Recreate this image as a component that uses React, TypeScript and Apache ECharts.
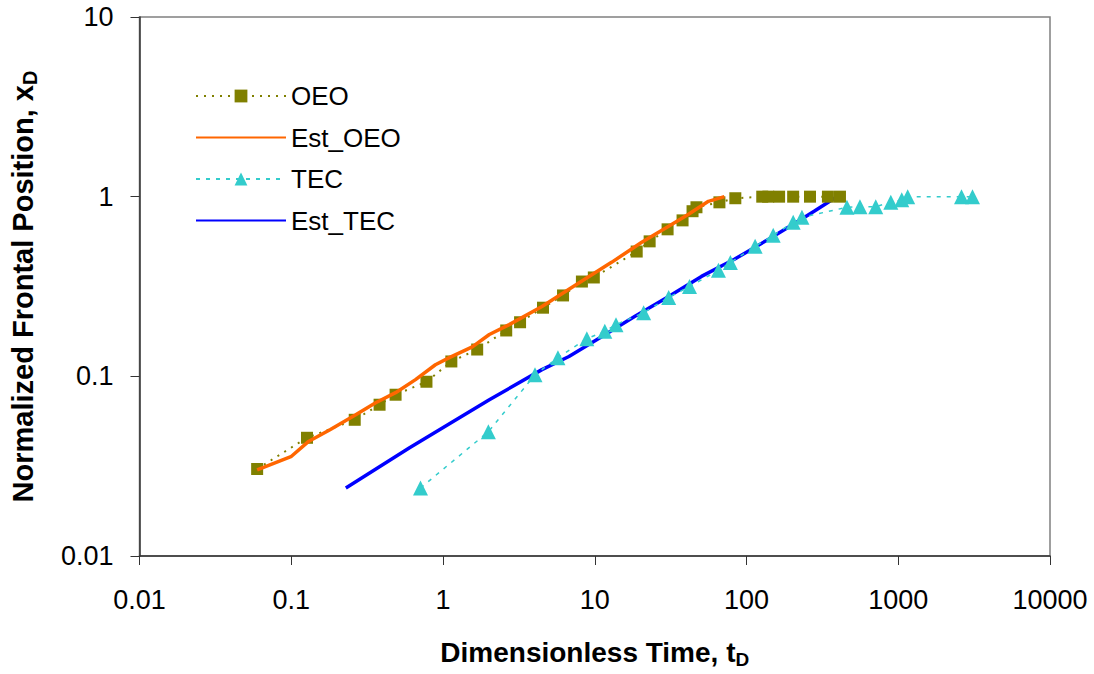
import React, { useEffect, useRef } from "react";
import * as echarts from "echarts";

const oeoData: [number, number][] = [
  [0.0596, 0.0305], [0.127, 0.0455], [0.262, 0.0573], [0.382, 0.0695], [0.487, 0.079],
  [0.778, 0.0933], [1.135, 0.121], [1.68, 0.141], [2.61, 0.18], [3.22, 0.2],
  [4.56, 0.241], [6.18, 0.282], [8.23, 0.337], [9.86, 0.355], [18.9, 0.495],
  [23.0, 0.564], [30.2, 0.658], [37.9, 0.738], [44.1, 0.83], [46.8, 0.873],
  [66.3, 0.93], [84.4, 0.98], [127, 1.0], [139, 1.0], [164, 1.0], [203, 1.0],
  [262, 1.0], [344, 1.0], [413, 1.0],
];

const estOeoData: [number, number][] = [
  [0.0596, 0.0302], [0.0995, 0.0357], [0.129, 0.0432], [0.18, 0.0504], [0.266, 0.0611],
  [0.36, 0.0713], [0.487, 0.0811], [0.659, 0.0959], [0.891, 0.116], [1.1, 0.127],
  [1.56, 0.146], [2.02, 0.171], [2.73, 0.194], [4.49, 0.245], [6.76, 0.305],
  [12.9, 0.431], [20.4, 0.557], [30.7, 0.684], [41.5, 0.798], [56.1, 0.942], [71.5, 1.0],
];

const tecData: [number, number][] = [
  [0.711, 0.0239], [1.99, 0.0492], [4.04, 0.102], [5.72, 0.127], [8.87, 0.162],
  [11.65, 0.178], [13.8, 0.194], [21.0, 0.226], [30.7, 0.275], [42.1, 0.316],
  [65.3, 0.389], [78.3, 0.43], [114, 0.529], [150, 0.609], [203, 0.72], [232, 0.767],
  [459, 0.873], [559, 0.88], [711, 0.88], [893, 0.93], [1055, 0.96], [1154, 1.0],
  [2612, 1.0], [3085, 1.0],
];

const estTecData: [number, number][] = [
  [0.229, 0.0239], [0.602, 0.04], [2.02, 0.0741], [4.49, 0.109], [6.76, 0.129],
  [11.1, 0.166], [18.3, 0.215], [30.7, 0.278], [50.5, 0.36], [83.2, 0.448],
  [139, 0.578], [219, 0.729], [279, 0.829], [389, 0.993],
];

const seriesNames = ["OEO", "Est_OEO", "TEC", "Est_TEC"];

const fmt = (v: number) => String(Number(v.toPrecision(6)));

export default function App() {
  const ref = useRef<HTMLDivElement>(null);
  useEffect(() => {
    if (!ref.current) return;
    const chart = echarts.init(ref.current, undefined, { renderer: "svg" });
    const font = "Arial, 'Liberation Sans', sans-serif";
    chart.setOption({
      animation: false,
      backgroundColor: "#ffffff",
      textStyle: { fontFamily: font },
      grid: {
        left: 136, right: 44, top: 17, bottom: 118,
        show: true, borderColor: "#808080", borderWidth: 1.5,
      },
      legend: {
        orient: "vertical",
        left: 195,
        top: 83,
        padding: 0,
        itemWidth: 90,
        itemHeight: 16,
        itemGap: 15.5,
        textStyle: { fontSize: 26, color: "#000", fontFamily: font },
        data: [
          { name: seriesNames[0] },
          { name: seriesNames[1], itemStyle: { opacity: 0 } },
          { name: seriesNames[2] },
          { name: seriesNames[3], itemStyle: { opacity: 0 } },
        ],
      },
      xAxis: {
        type: "log",
        logBase: 10,
        min: 0.01,
        max: 10000,
        name: "Dimensionless Time, t{sub|D}",
        nameLocation: "middle",
        nameGap: 80,
        nameTextStyle: {
          fontSize: 28, fontWeight: "bold", color: "#000", fontFamily: font,
          rich: { sub: { fontSize: 19, fontWeight: "bold", padding: [14, 0, 0, 0], fontFamily: font } },
        },
        axisLine: { lineStyle: { color: "#333", width: 1.5 } },
        axisTick: { show: true, length: 9, lineStyle: { color: "#333" } },
        minorTick: { show: false },
        splitLine: { show: false },
        axisLabel: { fontSize: 27, color: "#000", margin: 30, formatter: fmt },
      },
      yAxis: {
        type: "log",
        logBase: 10,
        min: 0.01,
        max: 10,
        name: "Normalized Frontal Position, x{sub|D}",
        nameLocation: "middle",
        nameGap: 100,
        nameRotate: 90,
        nameTextStyle: {
          fontSize: 29, fontWeight: "bold", color: "#000", fontFamily: font,
          rich: { sub: { fontSize: 20, fontWeight: "bold", padding: [14, 0, 0, 0], fontFamily: font } },
        },
        axisLine: { show: true, lineStyle: { color: "#333", width: 1.5 } },
        axisTick: { show: true, length: 9, lineStyle: { color: "#333" } },
        splitLine: { show: false },
        axisLabel: { fontSize: 27, color: "#000", margin: 26, formatter: fmt },
      },
      series: [
        {
          name: "OEO", type: "line", data: oeoData,
          symbol: "rect", symbolSize: 12,
          itemStyle: { color: "#808000" },
          lineStyle: { color: "#808000", width: 2, type: [2, 6] },
          z: 3,
        },
        {
          name: "Est_OEO", type: "line", data: estOeoData,
          symbol: "none",
          itemStyle: { color: "#FF6600" },
          lineStyle: { color: "#FF6600", width: 3.5 },
          z: 4,
        },
        {
          name: "TEC", type: "line", data: tecData,
          symbol: "triangle", symbolSize: 15,
          itemStyle: { color: "#33CCCC" },
          lineStyle: { color: "#33CCCC", width: 1.5, type: [4, 6] },
          z: 3,
        },
        {
          name: "Est_TEC", type: "line", data: estTecData,
          symbol: "none",
          itemStyle: { color: "#0000FF" },
          lineStyle: { color: "#0000FF", width: 3.5 },
          z: 2,
        },
      ],
    });
    return () => chart.dispose();
  }, []);
  return <div ref={ref} style={{ width: 1094, height: 674, position: "absolute", left: 0, top: 0 }} />;
}
